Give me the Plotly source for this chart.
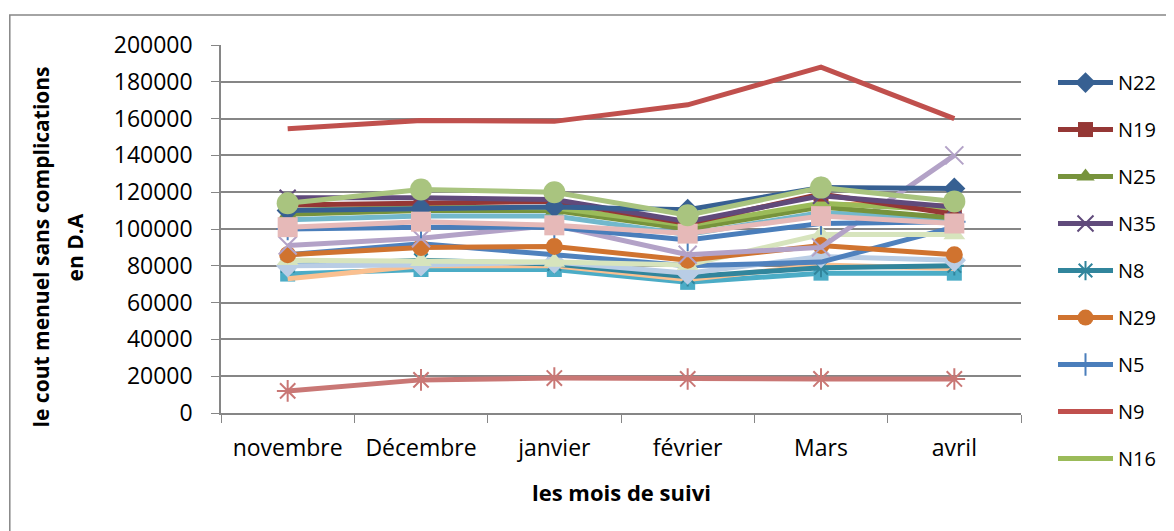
"""Coût mensuel sans complications par patient, novembre à avril."""

import plotly.graph_objects as go

mois = ["novembre", "Décembre", "janvier", "février", "Mars", "avril"]

# series shown in the legend
N22 = [110000, 111000, 112000, 110500, 122500, 122000]
N19 = [113000, 114000, 115000, 103000, 119000, 108000]
N25 = [108000, 110000, 110000, 100000, 112000, 106000]
N35 = [117000, 117000, 116000, 104000, 118000, 112000]
N8 = [80000, 83000, 81000, 74000, 79000, 80000]
N29 = [86000, 90000, 90500, 83000, 91000, 86000]
N5 = [100000, 101000, 101000, 94000, 103000, 104000]
N9 = [154500, 159000, 158500, 167500, 188000, 160000]
N16 = [110000, 112000, 111500, 102000, 114000, 110000]

# series whose legend entries are cut off
N12 = [108500, 111000, 111000, 100500, 113500, 112500]
N3 = [105000, 107000, 107000, 97000, 109000, 105000]
N18 = [101000, 104000, 102000, 97500, 107000, 103000]
N30 = [91000, 95000, 102000, 86000, 90000, 140000]
N7 = [86000, 92000, 86000, 80000, 82000, 101000]
N14 = [83000, 82500, 82000, 80500, 97000, 97000]
N27 = [80000, 80500, 82000, 76000, 85000, 83000]
N11 = [73000, 80000, 80000, 72500, 80500, 78500]
N2 = [75500, 78000, 78000, 71000, 76000, 76000]
N33 = [12000, 18000, 19000, 18500, 18500, 18500]
N20 = [114000, 121500, 120000, 107500, 122500, 115000]

GRID = "#868686"
FONT = "Open Sans"

# (name, values, color, symbol, marker size, legend rank or None)
series = [
    ("N9", N9, "#C0504D", None, 0, 8),
    ("N33", N33, "#C97775", "asterisk-open", 18, None),
    ("N2", N2, "#4BACC6", "square", 15, None),
    ("N11", N11, "#FAC090", None, 0, None),
    ("N8", N8, "#31859C", "asterisk-open", 16, 5),
    ("N27", N27, "#B9CDE5", "diamond", 18, None),
    ("N7", N7, "#4F81BD", None, 0, None),
    ("N14", N14, "#D7E4BD", "triangle-up", 19, None),
    ("N29", N29, "#D0732F", "circle", 17, 6),
    ("N30", N30, "#B3A2C7", "x-thin-open", 18, None),
    ("N5", N5, "#4A7EBB", "cross-thin-open", 16, 7),
    ("N3", N3, "#72B8CC", None, 0, None),
    ("N12", N12, "#F79646", "triangle-up", 14, None),
    ("N25", N25, "#77933C", "triangle-up", 16, 3),
    ("N16", N16, "#9BBB59", None, 0, 9),
    ("N19", N19, "#953735", "square", 15, 2),
    ("N35", N35, "#604A7B", "x-thin-open", 16, 4),
    ("N22", N22, "#376092", "diamond", 17, 1),
    ("N18", N18, "#E6B9B8", "square", 20, None),
    ("N20", N20, "#A9C47F", "circle", 22, None),
]

fig = go.Figure()
for name, vals, color, sym, size, rank in series:
    marker = dict(color=color, size=size, symbol=sym or "circle",
                  line=dict(color=color, width=2 if sym and "open" in sym else 0))
    fig.add_trace(go.Scatter(
        x=mois, y=vals, name=name,
        mode="lines+markers" if sym else "lines",
        line=dict(color=color, width=5),
        marker=marker,
        showlegend=rank is not None,
        legendrank=rank if rank is not None else 1000,
        legendgroup=name,
    ))

# the page body adds 8px on the top and left, so margins are pulled in by 8px
fig.update_layout(
    width=1174, height=531,
    margin=dict(l=213, r=161, t=37, b=126, autoexpand=False),
    paper_bgcolor="white", plot_bgcolor="white",
    font=dict(family=FONT, color="black", size=20),
    legend=dict(
        x=1.04, y=0.951, xanchor="left", yanchor="top",
        font=dict(size=20, family=FONT), maxheight=520,
        itemwidth=55, traceorder="grouped", tracegroupgap=18,
    ),
    shapes=[dict(type="rect", xref="paper", yref="paper",
                 x0=-0.264, x1=1.19, y0=-0.34, y1=1.0815,
                 line=dict(color=GRID, width=1.5))],
    annotations=[
        dict(text="<b>le cout menuel sans complications</b>",
             xref="paper", yref="paper", x=-0.225, y=0.45,
             xanchor="center", yanchor="middle", textangle=-90,
             showarrow=False, font=dict(size=21, family=FONT)),
        dict(text="<b>en D.A</b>",
             xref="paper", yref="paper", x=-0.1825, y=0.45,
             xanchor="center", yanchor="middle", textangle=-90,
             showarrow=False, font=dict(size=21, family=FONT)),
        dict(text="<b>les mois de suivi</b>",
             xref="paper", yref="paper", x=0.5, y=-0.215,
             xanchor="center", yanchor="middle",
             showarrow=False, font=dict(size=22, family=FONT)),
    ],
)
fig.update_xaxes(
    type="category", tickson="boundaries", ticks="outside", ticklen=8,
    tickcolor=GRID, showline=True, linecolor=GRID, linewidth=1.5,
    showgrid=False, tickfont=dict(size=23), range=[-0.5, 5.5],
    ticklabelstandoff=14,
)
fig.update_yaxes(
    range=[0, 200000], dtick=20000, tickformat="d",
    ticks="outside", ticklen=8, tickcolor=GRID,
    showline=True, linecolor=GRID, linewidth=1.5,
    showgrid=True, gridcolor=GRID, gridwidth=1.5,
    zeroline=False, tickfont=dict(size=23), ticklabelstandoff=14,
)

fig.write_html("out.html")
